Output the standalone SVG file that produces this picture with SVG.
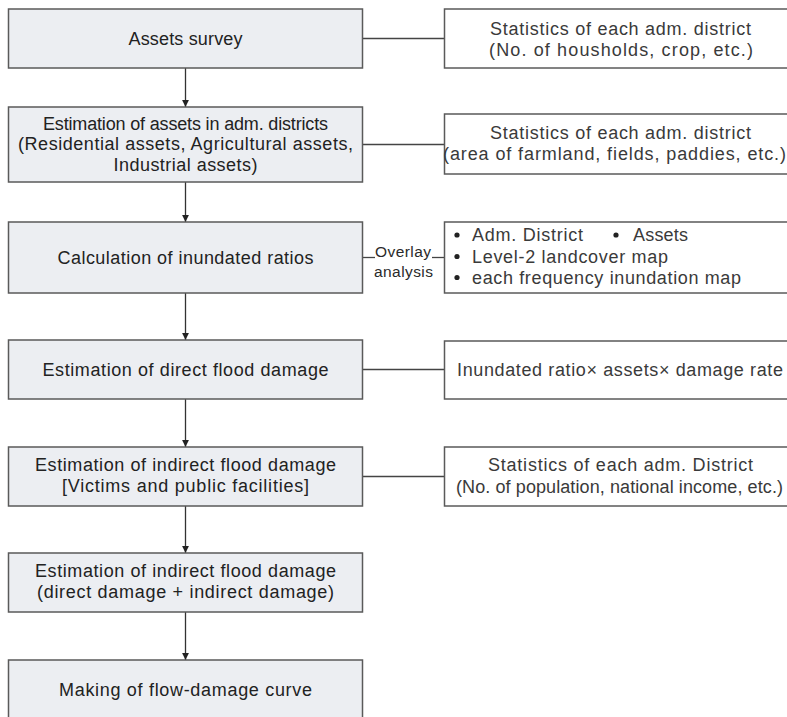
<svg xmlns="http://www.w3.org/2000/svg" width="787" height="717" viewBox="0 0 787 717">
<defs>
<style>
.box{fill:#eceef2;stroke:#5a5a5a;stroke-width:1.5}
.rbox{fill:#ffffff;stroke:#5a5a5a;stroke-width:1.5}
.t{font-family:"Liberation Sans",Arial,sans-serif;font-size:18px;fill:#222;text-anchor:middle}
.r{font-family:"Liberation Sans",Arial,sans-serif;font-size:18px;fill:#3a3a3a;text-anchor:middle}
.rl{font-family:"Liberation Sans",Arial,sans-serif;font-size:18px;fill:#3a3a3a}
.s{font-family:"Liberation Sans",Arial,sans-serif;font-size:15.5px;fill:#2a2a2a}
.ln{stroke:#444;stroke-width:1.3;fill:none}
.ar{stroke:#333;stroke-width:1.3;fill:none;marker-end:url(#ah)}
</style>
<marker id="ah" markerUnits="userSpaceOnUse" markerWidth="8" markerHeight="9" refX="7" refY="4" orient="auto" viewBox="0 0 8 8">
<path d="M0,0.6 L7,4 L0,7.4 Z" fill="#222"/>
</marker>
</defs>
<rect width="787" height="717" fill="#ffffff"/>

<g id="connectors">
<line class="ar" x1="185.5" y1="68" x2="185.5" y2="107"/>
<line class="ar" x1="185.5" y1="182" x2="185.5" y2="222"/>
<line class="ar" x1="185.5" y1="293" x2="185.5" y2="340"/>
<line class="ar" x1="185.5" y1="399" x2="185.5" y2="447"/>
<line class="ar" x1="185.5" y1="506" x2="185.5" y2="553"/>
<line class="ar" x1="185.5" y1="612" x2="185.5" y2="660"/>
<line class="ln" x1="362" y1="38.5" x2="444" y2="38.5"/>
<line class="ln" x1="362" y1="144.5" x2="444" y2="144.5"/>
<line class="ln" x1="362" y1="257.5" x2="375" y2="257.5"/>
<line class="ln" x1="432" y1="257.5" x2="444" y2="257.5"/>
<line class="ln" x1="362" y1="369.5" x2="444" y2="369.5"/>
<line class="ln" x1="362" y1="476.5" x2="444" y2="476.5"/>
<text class="s" x="375" y="256.5" textLength="56">Overlay</text>
<text class="s" x="374" y="276.5" textLength="59">analysis</text>
</g>

<g id="n1">
<rect class="box" x="8.5" y="9" width="354" height="59"/>
<text class="t" x="185.5" y="44.5" textLength="114">Assets survey</text>
</g>
<g id="n2">
<rect class="box" x="8.5" y="107" width="354" height="75"/>
<text class="t" x="185.5" y="129.5" textLength="285">Estimation of assets in adm. districts</text>
<text class="t" x="185.5" y="150" textLength="335">(Residential assets, Agricultural assets,</text>
<text class="t" x="185.5" y="170.5" textLength="144">Industrial assets)</text>
</g>
<g id="n3">
<rect class="box" x="8.5" y="222" width="354" height="71"/>
<text class="t" x="185.5" y="264" textLength="256">Calculation of inundated ratios</text>
</g>
<g id="n4">
<rect class="box" x="8.5" y="340" width="354" height="59"/>
<text class="t" x="185.5" y="376" textLength="286">Estimation of direct flood damage</text>
</g>
<g id="n5">
<rect class="box" x="8.5" y="447" width="354" height="59"/>
<text class="t" x="185.5" y="471" textLength="301">Estimation of indirect flood damage</text>
<text class="t" x="185.5" y="492" textLength="247">[Victims and public facilities]</text>
</g>
<g id="n6">
<rect class="box" x="8.5" y="553" width="354" height="59"/>
<text class="t" x="185.5" y="577" textLength="301">Estimation of indirect flood damage</text>
<text class="t" x="185.5" y="598" textLength="297">(direct damage + indirect damage)</text>
</g>
<g id="n7">
<rect class="box" x="8.5" y="660" width="354" height="60"/>
<text class="t" x="185.5" y="695.5" textLength="253">Making of flow-damage curve</text>
</g>

<g id="r1">
<rect class="rbox" x="444.5" y="9" width="360" height="59"/>
<text class="r" x="620.5" y="35" textLength="261">Statistics of each adm. district</text>
<text class="r" x="621" y="55.5" textLength="264">(No. of housholds, crop, etc.)</text>
</g>
<g id="r2">
<rect class="rbox" x="444.5" y="114" width="360" height="60"/>
<text class="r" x="620.5" y="139" textLength="261">Statistics of each adm. district</text>
<text class="rl" x="443" y="159.5" textLength="343">(area of farmland, fields, paddies, etc.)</text>
</g>
<g id="r3">
<rect class="rbox" x="444.5" y="222" width="360" height="71"/>
<circle cx="457" cy="235" r="2.6" fill="#222"/>
<circle cx="616" cy="235" r="2.6" fill="#222"/>
<circle cx="457" cy="256.5" r="2.6" fill="#222"/>
<circle cx="457" cy="277.5" r="2.6" fill="#222"/>
<text class="rl" x="472" y="241" textLength="111">Adm. District</text>
<text class="rl" x="633" y="241" textLength="55">Assets</text>
<text class="rl" x="472" y="262.5" textLength="196">Level-2 landcover map</text>
<text class="rl" x="472" y="283.5" textLength="269">each frequency inundation map</text>
</g>
<g id="r4">
<rect class="rbox" x="444.5" y="341" width="360" height="58"/>
<text class="rl" x="457" y="376" textLength="326">Inundated ratio× assets× damage rate</text>
</g>
<g id="r5">
<rect class="rbox" x="444.5" y="447" width="360" height="59"/>
<text class="r" x="620.5" y="471" textLength="265">Statistics of each adm. District</text>
<text class="r" x="619.5" y="492.5" textLength="327">(No. of population, national income, etc.)</text>
</g>
</svg>
